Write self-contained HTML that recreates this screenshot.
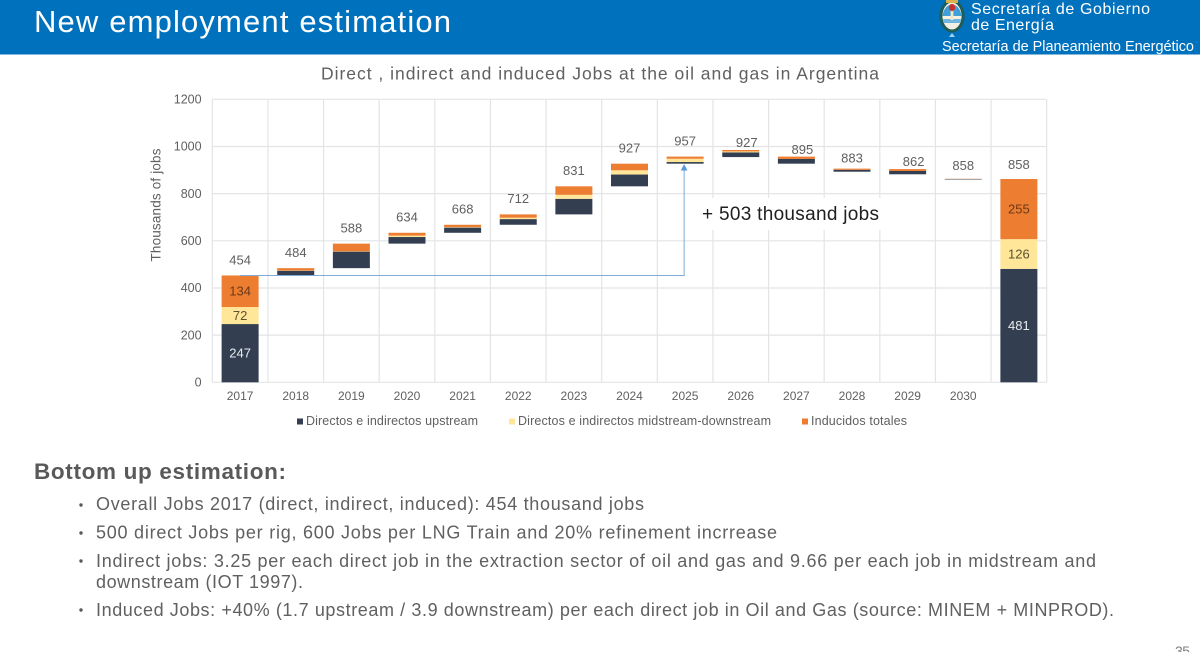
<!DOCTYPE html>
<html lang="en">
<head>
<meta charset="utf-8">
<title>New employment estimation</title>
<style>
html,body{margin:0;padding:0;background:#fff;width:1200px;height:652px;overflow:hidden}
svg{display:block}
text{font-family:"Liberation Sans",sans-serif;fill:#606060}
</style>
</head>
<body>
<svg id="slide" width="1200" height="652" viewBox="0 0 1200 652" xmlns="http://www.w3.org/2000/svg">
  <rect x="0" y="0" width="1200" height="652" fill="#ffffff"/>
  <rect x="0" y="0" width="1200" height="54.5" fill="#0071bc"/>
  <text x="34" y="32" font-size="31" textLength="417" style="fill:#ffffff">New employment estimation</text>
  <g>
    <path d="M952 33 L949 37 L955 37 Z" fill="#9fd0ee"/>
    <ellipse cx="952" cy="16" rx="12.6" ry="16.5" fill="#1f5d58"/>
    <ellipse cx="952" cy="16" rx="9.6" ry="13.5" fill="#f4efe2"/>
    <path d="M942.5 16 A9.6 13.5 0 0 1 961.5 16 Z" fill="#3f9fd8"/>
    <path d="M942.8 19 H961.2 L960 23 H944 Z" fill="#6fb6e2"/>
    <rect x="950.6" y="7" width="2.8" height="13" fill="#f2e6c8"/>
    <ellipse cx="952" cy="7.5" rx="3.2" ry="3.6" fill="#c8322d"/>
    <rect x="946" y="0" width="12" height="3" fill="#d8b24a"/>
  </g>
  <text x="971" y="14" font-size="16" textLength="179" style="fill:#ffffff">Secretaría de Gobierno</text>
  <text x="971" y="30" font-size="16" textLength="83" style="fill:#ffffff">de Energía</text>
  <text x="942" y="51" font-size="14.5" textLength="252" style="fill:#ffffff">Secretaría de Planeamiento Energético</text>

  <text x="321" y="79.5" font-size="17.5" textLength="558">Direct , indirect and induced Jobs at the oil and gas in Argentina</text>

  <g id="chart"></g>

  <text transform="translate(160.5,205) rotate(-90)" text-anchor="middle" font-size="13.5" textLength="113">Thousands of jobs</text>

  <g>
    <rect x="297" y="418.5" width="6" height="6" fill="#333f50"/>
    <text x="306" y="425" font-size="12.5" textLength="172">Directos e indirectos upstream</text>
    <rect x="509" y="418.5" width="6" height="6" fill="#ffe699"/>
    <text x="518" y="425" font-size="12.5" textLength="253">Directos e indirectos midstream-downstream</text>
    <rect x="802" y="418.5" width="6" height="6" fill="#ed7d31"/>
    <text x="811" y="425" font-size="12.5" textLength="96">Inducidos totales</text>
  </g>

  <text x="34" y="479" font-size="22.5" font-weight="bold" textLength="252" style="fill:#595959">Bottom up estimation:</text>

  <g font-size="18">
    <circle cx="81" cy="505" r="1.7" fill="#595959"/>
    <text x="96" y="510" textLength="548">Overall Jobs 2017 (direct, indirect, induced): 454 thousand jobs</text>
    <circle cx="81" cy="533" r="1.7" fill="#595959"/>
    <text x="96" y="538.5" textLength="681">500 direct Jobs per rig, 600 Jobs per LNG Train and 20% refinement incrrease</text>
    <circle cx="81" cy="561" r="1.7" fill="#595959"/>
    <text x="96" y="567" textLength="1000">Indirect jobs: 3.25 per each direct job in the extraction sector of oil and gas and 9.66 per each job in midstream and</text>
    <text x="96" y="588" textLength="207">downstream (IOT 1997).</text>
    <circle cx="81" cy="610" r="1.7" fill="#595959"/>
    <text x="96" y="616" textLength="1018">Induced Jobs: +40% (1.7 upstream / 3.9 downstream) per each direct job in Oil and Gas (source: MINEM + MINPROD).</text>
  </g>

  <text x="1175" y="656" font-size="14" textLength="15" style="fill:#7f7f7f">35</text>
</svg>

<script>
const categories = ["2017","2018","2019","2020","2021","2022","2023","2024","2025","2026","2027","2028","2029","2030",""];
const offsets    = [0,454,484,588,634,668,712,831,927,955,927,893,882,860,0];
const upstream   = [247,19,70,28,22,24,66,50,7,20,20,8,14,2,481];
const midstream  = [72,1,1,6,2,6,17,18,14,4,0,0,0,0,126];
const induced    = [134,10,33,12,10,14,36,28,9,6,10,5,8,1,255];
const printedTotals = [454,484,588,634,668,712,831,927,957,927,895,883,862,858,858];
const yTicks = [0,200,400,600,800,1000,1200];
const annotationBaseValue = 453;
const annotationTopValue = 927;
const annotationText = "+ 503 thousand jobs";

const NS = "http://www.w3.org/2000/svg";
const chart = document.getElementById("chart");
const plot = {left:212.3, right:1046.7, top:99.3, bottom:382.3, max:1200};
const step = (plot.right - plot.left) / categories.length;
const barWidth = 37;
const xCenter = i => plot.left + step * (i + 0.5);
const yScale = v => plot.bottom - v / plot.max * (plot.bottom - plot.top);
const gridColor = "#e2e4e6";
const labelNudge = {9:[6,8], 10:[6,8.5], 11:[0,5], 12:[6,8], 13:[0,2.4], 14:[0,1]};

function make(tag, attrs, text) {
  const el = document.createElementNS(NS, tag);
  for (const k in attrs) el.setAttribute(k, attrs[k]);
  if (text !== undefined) el.textContent = text;
  chart.appendChild(el);
  return el;
}

/* gridlines */
yTicks.forEach(t => {
  const line = make("line", {x1:plot.left, x2:plot.right, y1:yScale(t), y2:yScale(t), stroke:gridColor, "stroke-width":1.2});
  
  
  const label = make("text", {x:201.6, y:yScale(t) + 4.2, "text-anchor":"end", "font-size":12.5}, String(t));
  
  
});
for (let i = 0; i <= categories.length; i++) {
  const gx = plot.left + step * i;
  const line = make("line", {x1:gx, x2:gx, y1:plot.top, y2:plot.bottom, stroke:gridColor, "stroke-width":1.2});
  
  
}

/* white box behind the annotation */
const noteBox = make("rect", {x:700, y:198, width:182, height:32, fill:"#ffffff"});



/* stacked bars */
const seriesList = [
  {name:"upstream", values:upstream, color:"#333f50", text:"#e8ebef"},
  {name:"midstream", values:midstream, color:"#ffe699", text:"#5c5233"},
  {name:"induced", values:induced, color:"#ed7d31", text:"#6b3a18"}
];
categories.forEach((cat, i) => {
  let running = offsets[i];
  seriesList.forEach(s => {
    const v = s.values[i];
    if (v <= 0) { return; }
    const yTop = yScale(running + v);
    const yBottom = yScale(running);
    const bar = make("rect", {x:xCenter(i) - barWidth / 2, y:yTop, width:barWidth, height:yBottom - yTop, fill:s.color});
    
    
    if (offsets[i] === 0) {
      const val = make("text", {x:xCenter(i), y:(yTop + yBottom) / 2 + 4.4, "text-anchor":"middle", "font-size":13, style:"fill:" + s.text}, String(v));
      
      
    }
    running += v;
  });

  const nudge = labelNudge[i] || [0,0];
  const total = make("text", {x:xCenter(i) + nudge[0], y:yScale(running) - 11.2 + nudge[1], "text-anchor":"middle", "font-size":13}, String(printedTotals[i]));
  
  

  if (cat) {
    const tick = make("text", {x:xCenter(i), y:400, "text-anchor":"middle", "font-size":12}, cat);
    
    
  }
});

/* growth annotation arrow */
const arrowX = xCenter(8) - 1;
const arrowBaseY = yScale(annotationBaseValue);
const arrowTipY = yScale(annotationTopValue) + 0.4;
const arrowLine = make("path", {d:"M" + xCenter(0) + " " + arrowBaseY + " H" + arrowX + " V" + (arrowTipY + 5), fill:"none", stroke:"#7fabd6", "stroke-width":1});


const arrowHead = make("path", {d:"M" + arrowX + " " + arrowTipY + " l3.4 6.4 h-6.8 Z", fill:"#5b9bd5"});


const note = make("text", {x:702, y:220, "font-size":19, textLength:177, style:"fill:#1f1f1f"}, annotationText);


</script>
</body>
</html>
